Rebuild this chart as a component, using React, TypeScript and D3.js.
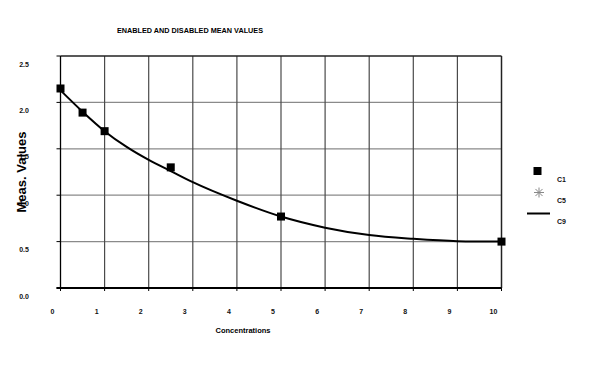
import * as d3 from "d3";

// measured points (C1)
const c1X = [0, 0.5, 1, 2.5, 5, 10];
const c1Y = [2.15, 1.89, 1.69, 1.3, 0.77, 0.5];

// fitted curve (C9)
const c9X = [0, 0.5, 1, 1.5, 2, 2.5, 3, 4, 5, 6, 7, 8, 9, 10];
const c9Y = [2.13, 1.9, 1.69, 1.52, 1.38, 1.26, 1.14, 0.94, 0.77, 0.65, 0.57, 0.53, 0.505, 0.5];

const xTicks = [0, 1, 2, 3, 4, 5, 6, 7, 8, 9, 10];
const yTicks = [0, 0.5, 1, 1.5, 2, 2.5];
const legendLabels = ["C1", "C5", "C9"];

const font = "'Liberation Sans', Arial, sans-serif";

export default function App() {
  const x = d3.scaleLinear().domain([0, 10]).range([60.5, 501.5]);
  const y = d3.scaleLinear().domain([0, 2.5]).range([288, 56]);

  const line = d3
    .line<number>()
    .x((d, i) => x(c9X[i]))
    .y(d => y(d))
    .curve(d3.curveMonotoneX);

  const sq = 8;

  return (
    <svg
      width={600}
      height={369}
      style={{ position: "absolute", left: 0, top: 0, background: "#fff" }}
    >
      <text
        x={190}
        y={33}
        textAnchor="middle"
        fontFamily={font}
        fontWeight="bold"
        fontSize={7.5}
        textLength={146}
        lengthAdjust="spacingAndGlyphs"
      >
        ENABLED AND DISABLED MEAN VALUES
      </text>

      {/* horizontal gridlines */}
      {yTicks.slice(1, -1).map(t => (
        <line
          key={"h" + t}
          x1={x(0)}
          x2={x(10)}
          y1={y(t)}
          y2={y(t)}
          stroke="#8a8a8a"
          strokeWidth={1.3}
        />
      ))}
      {/* vertical gridlines */}
      {xTicks.slice(1, -1).map(t => (
        <line
          key={"v" + t}
          x1={x(t)}
          x2={x(t)}
          y1={y(2.5)}
          y2={y(0)}
          stroke="#4a4a4a"
          strokeWidth={1.2}
        />
      ))}
      {/* frame */}
      <line x1={x(0)} x2={x(10)} y1={y(2.5)} y2={y(2.5)} stroke="#222" strokeWidth={1.3} />
      <line x1={x(10)} x2={x(10)} y1={y(2.5)} y2={y(0)} stroke="#222" strokeWidth={1.5} />
      <line x1={x(0)} x2={x(0)} y1={y(2.5)} y2={y(0)} stroke="#000" strokeWidth={1.3} />
      <line x1={x(0) - 4} x2={x(10)} y1={y(0)} y2={y(0)} stroke="#000" strokeWidth={2} />

      {/* y ticks */}
      {yTicks.map(t => (
        <g key={"yt" + t}>
          <line x1={x(0) - 4} x2={x(0)} y1={y(t)} y2={y(t)} stroke="#000" strokeWidth={1} />
          <text
            x={24}
            y={y(t) + 10.5}
            textAnchor="middle"
            fontFamily={font}
            fontWeight="bold"
            fontSize={7}
            fill="#111"
          >
            {t.toFixed(1)}
          </text>
        </g>
      ))}
      {/* x ticks */}
      {xTicks.map(t => (
        <g key={"xt" + t}>
          <line x1={x(t)} x2={x(t)} y1={y(0)} y2={y(0) + 3} stroke="#000" strokeWidth={1} />
          <text
            x={x(t) - 8}
            y={314}
            textAnchor="middle"
            fontFamily={font}
            fontWeight="bold"
            fontSize={7}
            fill="#111"
          >
            {t}
          </text>
        </g>
      ))}

      <text
        x={243}
        y={333}
        textAnchor="middle"
        fontFamily={font}
        fontWeight="bold"
        fontSize={7.5}
      >
        Concentrations
      </text>
      <text
        transform="translate(26,172) rotate(-90)"
        textAnchor="middle"
        fontFamily={font}
        fontWeight="bold"
        fontSize={13}
      >
        Meas. Values
      </text>

      {/* C9 curve */}
      <path d={line(c9Y) || ""} fill="none" stroke="#000" strokeWidth={2} />

      {/* C1 markers */}
      {c1X.map((v, i) => (
        <rect
          key={"m" + i}
          x={x(v) - sq / 2}
          y={y(c1Y[i]) - sq / 2}
          width={sq}
          height={sq}
          fill="#000"
        />
      ))}

      {/* legend */}
      <rect x={533.5} y={167} width={8} height={8} fill="#000" />
      <g stroke="#888" strokeWidth={1}>
        {[0, 45, 90, 135].map(a => (
          <line
            key={"a" + a}
            x1={539 - 5 * Math.cos((a * Math.PI) / 180)}
            x2={539 + 5 * Math.cos((a * Math.PI) / 180)}
            y1={192.5 - 5 * Math.sin((a * Math.PI) / 180)}
            y2={192.5 + 5 * Math.sin((a * Math.PI) / 180)}
          />
        ))}
      </g>
      <line x1={527} x2={550} y1={213.5} y2={213.5} stroke="#000" strokeWidth={2} />
      {legendLabels.map((l, i) => (
        <text
          key={l}
          x={557}
          y={182 + i * 21}
          fontFamily={font}
          fontWeight="bold"
          fontSize={7}
          fill="#111"
        >
          {l}
        </text>
      ))}
    </svg>
  );
}
